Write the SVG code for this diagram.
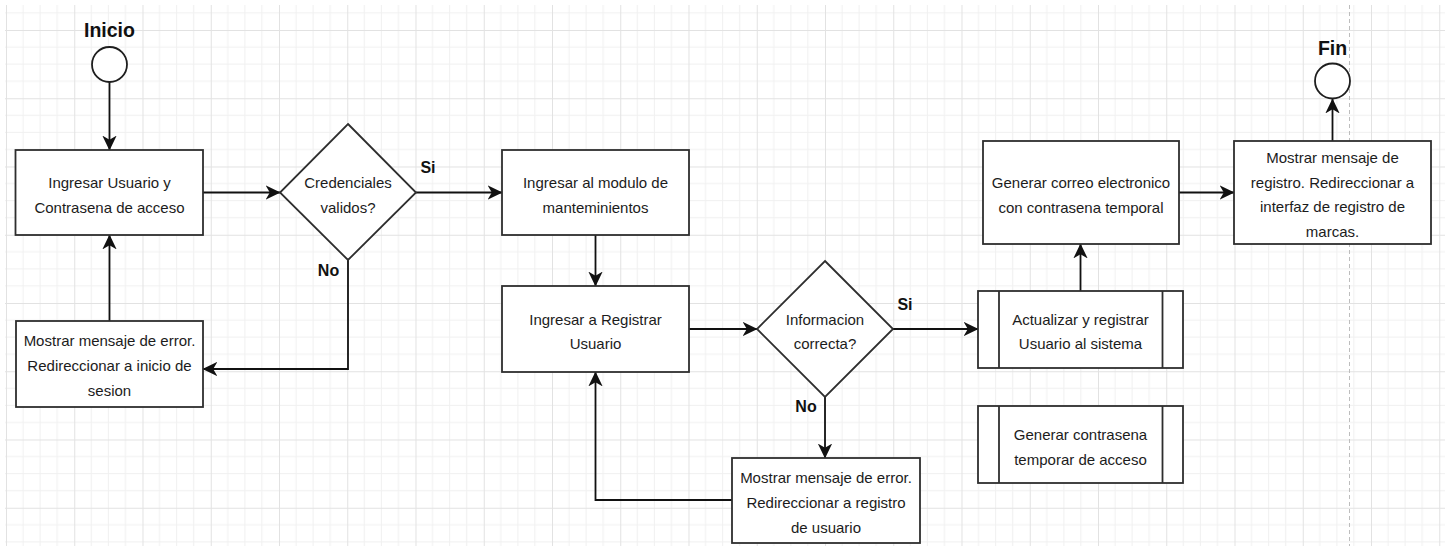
<svg xmlns="http://www.w3.org/2000/svg" width="1445" height="546" viewBox="0 0 1445 546">
  <style>
    .box { fill: #ffffff; stroke: #2e2e2e; stroke-width: 1.8; }
    .term { fill: #ffffff; stroke: #1e1e1e; stroke-width: 1.8; }
    .txt { font-family: "Liberation Sans", Arial, sans-serif; font-size: 15px; fill: #1c1c1c; text-anchor: middle; }
    .lbl { font-family: "Liberation Sans", Arial, sans-serif; font-size: 16px; font-weight: bold; fill: #111111; text-anchor: middle; }
    .title { font-family: "Liberation Sans", Arial, sans-serif; font-size: 19.5px; font-weight: bold; fill: #111111; text-anchor: middle; }
    .edge { fill: none; stroke: #111111; stroke-width: 1.8; marker-end: url(#arrow); }
  </style>
  <defs>
    <pattern id="grid" patternUnits="userSpaceOnUse" x="6" y="30" width="68.25" height="68.25">
      <g stroke="#f0f0f0" stroke-width="1">
        <line x1="17.06" y1="0" x2="17.06" y2="68.25"/>
        <line x1="34.12" y1="0" x2="34.12" y2="68.25"/>
        <line x1="51.19" y1="0" x2="51.19" y2="68.25"/>
        <line x1="0" y1="17.06" x2="68.25" y2="17.06"/>
        <line x1="0" y1="34.12" x2="68.25" y2="34.12"/>
        <line x1="0" y1="51.19" x2="68.25" y2="51.19"/>
      </g>
      <g stroke="#e2e2e2" stroke-width="1">
        <line x1="0.5" y1="0" x2="0.5" y2="68.25"/>
        <line x1="0" y1="0.5" x2="68.25" y2="0.5"/>
      </g>
    </pattern>
    <marker id="arrow" markerUnits="userSpaceOnUse" markerWidth="15" markerHeight="15" viewBox="0 0 14 14" refX="13.5" refY="7" orient="auto">
      <path d="M0,0.3 L14,7 L0,13.7 L4,7 Z" fill="#111111"/>
    </marker>
  </defs>

  <!-- canvas -->
  <rect width="1445" height="546" fill="#ffffff"/>
  <rect x="5" y="5" width="1440" height="541" fill="url(#grid)"/>
  <line x1="1349.5" y1="5" x2="1349.5" y2="546" stroke="#bdbdbd" stroke-width="1" stroke-dasharray="4 3"/>

  <!-- connectors -->
  <g id="connectors">
    <path class="edge" d="M109.5,82 L109.5,150"/>
    <path class="edge" d="M203,192.5 L280,192.5"/>
    <path class="edge" d="M416,192.5 L502,192.5"/>
    <path class="edge" d="M595.5,235 L595.5,286"/>
    <path class="edge" d="M689,329 L757,329"/>
    <path class="edge" d="M893,329 L978,329"/>
    <path class="edge" d="M1080.5,291 L1080.5,244"/>
    <path class="edge" d="M1179,192.5 L1234,192.5"/>
    <path class="edge" d="M1332.5,141 L1332.5,99"/>
    <path class="edge" d="M109.5,321 L109.5,235"/>
    <path class="edge" d="M348,260 L348,369 L203,369"/>
    <path class="edge" d="M825,397 L825,458"/>
    <path class="edge" d="M732,500 L595.5,500 L595.5,372"/>
  </g>

  <!-- edge labels -->
  <g id="edge-labels">
    <text class="lbl" x="428" y="173">Si</text>
    <text class="lbl" x="328.5" y="276">No</text>
    <text class="lbl" x="905" y="310">Si</text>
    <text class="lbl" x="806" y="412">No</text>
  </g>

  <!-- start -->
  <g id="inicio">
    <text class="title" x="109.5" y="37">Inicio</text>
    <circle class="term" cx="109.5" cy="64.5" r="17.5"/>
  </g>

  <g id="ingresar-usuario">
    <rect class="box" x="15.5" y="150" width="187.5" height="85"/>
    <text class="txt" x="109.5" y="188">Ingresar Usuario y</text>
    <text class="txt" x="109.5" y="212.5">Contrasena de acceso</text>
  </g>

  <g id="credenciales">
    <polygon class="box" points="348,124 416,192.5 348,260 280,192.5"/>
    <text class="txt" x="348" y="188">Credenciales</text>
    <text class="txt" x="348" y="212.5">validos?</text>
  </g>

  <g id="error-inicio">
    <rect class="box" x="16" y="321" width="187" height="86"/>
    <text class="txt" x="109.5" y="346">Mostrar mensaje de error.</text>
    <text class="txt" x="109.5" y="371">Redireccionar a inicio de</text>
    <text class="txt" x="109.5" y="396">sesion</text>
  </g>

  <g id="modulo-mantenimientos">
    <rect class="box" x="502" y="150" width="187" height="85"/>
    <text class="txt" x="595.5" y="188">Ingresar al modulo de</text>
    <text class="txt" x="595.5" y="212.5">manteminientos</text>
  </g>

  <g id="registrar-usuario">
    <rect class="box" x="502" y="286" width="187" height="86"/>
    <text class="txt" x="595.5" y="324.5">Ingresar a Registrar</text>
    <text class="txt" x="595.5" y="349">Usuario</text>
  </g>

  <g id="informacion-correcta">
    <polygon class="box" points="825,261 893,329 825,397 757,329"/>
    <text class="txt" x="825" y="324.5">Informacion</text>
    <text class="txt" x="825" y="349">correcta?</text>
  </g>

  <g id="error-registro">
    <rect class="box" x="732" y="458" width="188" height="85"/>
    <text class="txt" x="826" y="483">Mostrar mensaje de error.</text>
    <text class="txt" x="826" y="508">Redireccionar a registro</text>
    <text class="txt" x="826" y="532.5">de usuario</text>
  </g>

  <g id="actualizar-registrar">
    <rect class="box" x="978" y="291" width="205" height="77"/>
    <line class="box" x1="999" y1="291" x2="999" y2="368"/>
    <line class="box" x1="1162.5" y1="291" x2="1162.5" y2="368"/>
    <text class="txt" x="1080.5" y="324.5">Actualizar y registrar</text>
    <text class="txt" x="1080.5" y="349">Usuario al sistema</text>
  </g>

  <g id="generar-contrasena">
    <rect class="box" x="978" y="406" width="205" height="77"/>
    <line class="box" x1="999" y1="406" x2="999" y2="483"/>
    <line class="box" x1="1162.5" y1="406" x2="1162.5" y2="483"/>
    <text class="txt" x="1080.5" y="439.5">Generar contrasena</text>
    <text class="txt" x="1080.5" y="464.5">temporar de acceso</text>
  </g>

  <g id="generar-correo">
    <rect class="box" x="983" y="141" width="196" height="103"/>
    <text class="txt" x="1081" y="188">Generar correo electronico</text>
    <text class="txt" x="1081" y="212.5">con contrasena temporal</text>
  </g>

  <g id="mensaje-registro">
    <rect class="box" x="1234" y="141" width="197" height="103"/>
    <text class="txt" x="1332.5" y="163">Mostrar mensaje de</text>
    <text class="txt" x="1332.5" y="187.5">registro. Redireccionar a</text>
    <text class="txt" x="1332.5" y="212">interfaz de registro de</text>
    <text class="txt" x="1332.5" y="236.5">marcas.</text>
  </g>

  <!-- end -->
  <g id="fin">
    <text class="title" x="1332.5" y="54.5">Fin</text>
    <circle class="term" cx="1332.5" cy="81" r="17.5"/>
  </g>
</svg>
